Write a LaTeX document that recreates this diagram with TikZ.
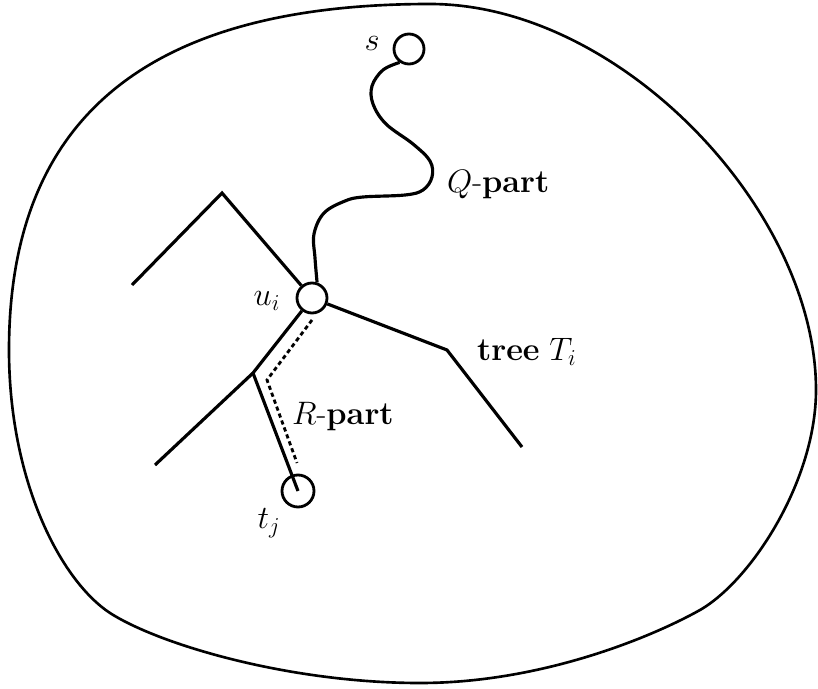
\documentclass[tikz,border=0pt]{standalone}
\usepackage{fix-cm}
\usepackage{amsmath}
\usetikzlibrary{calc, positioning}

\tikzset{
  vtx/.style={draw, circle, line width=1.6pt, minimum size=0.6cm, inner sep=0pt},
  edge/.style={line width=1.8pt},
  lbl/.style={font=\fontsize{18.5}{22}\selectfont, inner sep=1pt}
}

\begin{document}
\begin{tikzpicture}[x=0.02cm, y=-0.02cm]
\useasboundingbox (0,0) rectangle (818,689);

% the region
\draw[line width=1.5pt]
  (430,4) .. controls (620,4) and (816,210) .. (816,390)
  .. controls (816,480) and (752,580) .. (700,610)
  .. controls (650,638) and (540,683) .. (420,683)
  .. controls (290,683) and (160,645) .. (110,613)
  .. controls (60,580) and (9,480) .. (9,350)
  .. controls (9,100) and (170,4) .. cycle;

% vertices
\node[vtx] (s) at (409,49) {};
\node[vtx] (u) at (312,298) {};
\node[vtx, minimum size=0.64cm] (t) at (298,491) {};

\coordinate (lpeak) at (222,193);
\coordinate (lend) at (132,285);
\coordinate (rbend) at (447,350);
\coordinate (rend) at (522,447);
\coordinate (fork) at (253,373);
\coordinate (fend) at (155,465);

% tree T_i
\draw[edge] (u) -- (lpeak) -- (lend);
\draw[edge] (u) -- (rbend) -- (rend);
\draw[edge] (u) -- (fork) -- (fend);
\draw[edge] (fork) -- (t.center);

% Q-part
\draw[edge]
  plot[smooth, tension=0.6] coordinates {
    (s.235) (383,70) (372,86) (373,104) (386,124) (413,144) (430,161)
    (432,177) (423,190) (405,195) (363,197) (345,201) (324,213)
    (314,234) (315,258) (u.72)};

% R-part
\draw[edge, line width=1.6pt, dash pattern=on 2.4pt off 1.8pt]
  (312,320) -- (267,380) -- (297,463);

% labels
\node[lbl] at (372,44) {$s$};
\node[lbl] at (267,301) {$u_i$};
\node[lbl] at (269,523) {$t_j$};
\node[lbl, right] at (445,185) {$Q$-\textbf{part}};
\node[lbl, right] at (475,352) {\textbf{tree} $T_i$};
\node[lbl, right] at (290,417) {$R$-\textbf{part}};
\end{tikzpicture}
\end{document}
